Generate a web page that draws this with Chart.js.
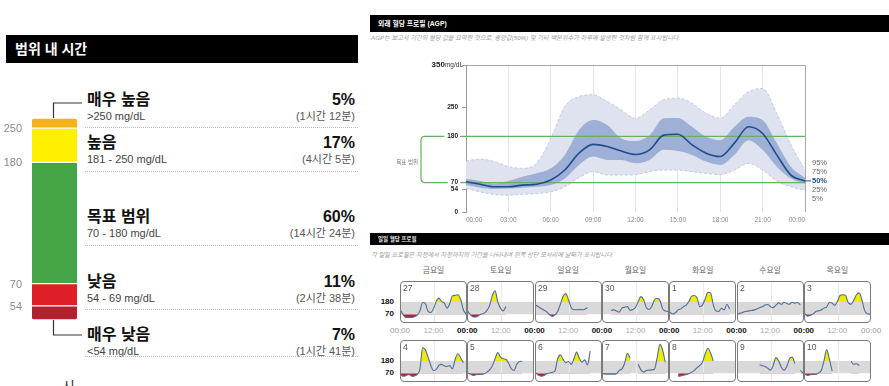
<!DOCTYPE html>
<html lang="ko">
<head>
<meta charset="utf-8">
<title>혈당 보고서</title>
<script src="https://cdn.jsdelivr.net/npm/chart.js@4.4.1/dist/chart.umd.min.js"></script>
<style>
  body {
    margin: 0;
    width: 889px;
    height: 386px;
    position: relative;
    overflow: hidden;
    background: #fff;
    font-family: Arial, 'Liberation Sans', 'Noto Sans CJK KR', sans-serif;
    color: #111;
  }
  .abs { position: absolute; white-space: nowrap; line-height: 1; }
  .head {
    position: absolute;
    background: #000;
    color: #fff;
    font-weight: bold;
    font-family: Arial, 'Noto Sans CJK KR', sans-serif;
    white-space: nowrap;
    box-sizing: border-box;
  }
  .sub { position: absolute; white-space: nowrap; font-style: italic; color: #9a9a9a; font-size: 6.2px; line-height: 1; }
  .dots { position: absolute; left: 85px; width: 273px; height: 0; border-top: 1px dotted #bdbdbd; }
  .day-box {
    position: absolute;
    width: 67px;
    height: 42px;
    box-sizing: border-box;
    border: 1px solid #7a7a7a;
    border-radius: 4px;
    overflow: hidden;
  }
  .day-box canvas { position: absolute; left: 0; top: 0; }
  .day-date { position: absolute; left: 2px; top: 2px; font-size: 8.5px; color: #555; line-height: 1; }
  canvas.abs { position: absolute; }
</style>
</head>
<body>

<div class="head" style="left:6px;top:35px;width:352px;height:28px;line-height:28px;padding-left:9px;font-size:14px;">범위 내 시간</div>
<canvas id="tir" class="abs" width="84" height="260" style="left:0;top:90px;"></canvas>

<div class="head" style="left:370px;top:15px;width:519px;height:17px;line-height:17px;padding-left:8px;font-size:6.8px;">외래 혈당 프로필 (AGP)</div>
<div class="sub" style="left:371px;top:35px;">AGP는 보고서 기간의 혈당 값을 요약한 것으로, 중앙값(50%) 및 기타 백분위수가 하루에 발생한 것처럼 함께 표시됩니다.</div>
<canvas id="agp" class="abs" width="500" height="172" style="left:380px;top:55px;"></canvas>

<div class="head" style="left:370px;top:233px;width:519px;height:12px;line-height:12px;padding-left:8px;font-size:5.5px;">일일 혈당 프로필</div>
<div class="sub" style="left:371px;top:252px;">각 일일 프로필은 자정에서 자정까지의 기간을 나타내며 왼쪽 상단 모서리에 날짜가 표시됩니다.</div>

<script>
// ---- 범위 내 시간 (Time in range) ----
const TIR_LEVELS = ['매우 높음', '높음', '목표 범위', '낮음', '매우 낮음'];
const TIR_RANGES = ['>250 mg/dL', '181 - 250 mg/dL', '70 - 180 mg/dL', '54 - 69 mg/dL', '<54 mg/dL'];
const TIR_PERCENT = [5, 17, 60, 11, 7];
const TIR_DURATION = ['(1시간 12분)', '(4시간 5분)', '(14시간 24분)', '(2시간 38분)', '(1시간 41분)'];
const TIR_THRESHOLDS = ['250', '180', '70', '54'];

// ---- AGP percentiles, mg/dL by hour of day ----
const AGP_HOURS = [0, 1, 2, 3, 4, 5, 6, 7, 8, 9, 10, 11, 12, 13, 14, 15, 16, 17, 18, 19, 20, 21, 22, 23, 24];
const AGP_P95 = [121, 126, 120, 108, 104, 116, 175, 251, 275, 279, 263, 243, 223, 243, 267, 271, 259, 235, 223, 255, 286, 294, 235, 160, 100];
const AGP_P75 = [79, 74, 68, 74, 84, 92, 104, 136, 195, 219, 207, 175, 169, 183, 223, 224, 203, 179, 171, 203, 227, 219, 164, 108, 82];
const AGP_P50 = [72, 66, 60, 60, 64, 66, 76, 100, 140, 161, 156, 145, 137, 148, 183, 185, 160, 140, 132, 164, 203, 187, 136, 88, 74];
const AGP_P25 = [64, 58, 55, 56, 58, 60, 64, 80, 112, 132, 124, 124, 116, 124, 148, 145, 136, 120, 112, 136, 171, 148, 108, 80, 68];
const AGP_P5 = [56, 48, 42, 40, 42, 44, 48, 60, 82, 96, 88, 88, 89, 96, 100, 100, 96, 92, 89, 100, 116, 100, 74, 60, 52];
const AGP_Y_TICKS = [0, 54, 70, 180, 250, 350];
const AGP_X_TICKS = [0, 3, 6, 9, 12, 15, 18, 21, 24];
const AGP_X_LABELS = ['00:00', '03:00', '06:00', '09:00', '12:00', '15:00', '18:00', '21:00', '00:00'];
const AGP_PCT_LABELS = ['95%', '75%', '50%', '25%', '5%'];
const TARGET_HIGH = 180;
const TARGET_LOW = 70;

// ---- 일일 혈당 프로필 (daily profiles), mg/dL by hour ----
const DAY_NAMES = ['금요일', '토요일', '일요일', '월요일', '화요일', '수요일', '목요일'];
const DAY_DATES = ['27', '28', '29', '30', '1', '2', '3', '4', '5', '6', '7', '8', '9', '10'];
const DAY_HOURS = AGP_HOURS;
const DAY_27 = [100, 58, 42, 42, 42, 48, 62, 100, 176, 165, 95, 85, 120, 185, 215, 185, 170, 125, 165, 235, 240, 245, 205, 110, 72];
const DAY_28 = [95, 62, 45, 45, 60, 72, 80, 105, 150, 240, 280, 180, 125, 100, 140, null, null, null, null, null, null, null, null, null, null];
const DAY_29 = [150, 135, 120, 105, 90, 65, 50, 65, 95, 160, 230, 255, 200, 130, 110, 110, 112, 110, 115, 128, null, null, null, null, null];
const DAY_30 = [null, null, null, 105, 109, 100, 89, 125, 133, 138, 105, 112, 130, 185, 228, 200, 130, 112, 140, 200, 214, 196, 120, 100, 95];
const DAY_1 = [89, 72, 83, 109, 118, 138, 152, 187, 233, 239, 216, 138, 152, 210, 268, 262, 152, 100, 95, 124, 109, 160, 118, null, null];
const DAY_2 = [72, 80, 89, 95, 100, 103, 109, 118, 129, 138, 152, 158, 138, 129, 152, 172, 158, 178, 167, 160, 178, 170, 175, 155, null];
const DAY_3 = [72, 52, 60, 72, 95, 100, 109, 125, 135, 175, 170, 150, 187, 240, 245, 238, 172, 160, 195, 245, 262, 200, 105, 75, 72];
const DAY_4 = [51, 43, 51, 60, 43, 46, 60, 109, 300, 280, 215, 140, 95, 105, 140, 150, 135, 132, 138, 109, 196, 245, 210, 165, null];
const DAY_5 = [72, 60, 51, 57, 60, 60, 66, 80, 100, 138, 200, 255, 215, 200, 195, 160, 110, 95, 150, 176, 178, null, null, null, null];
const DAY_6 = [72, 51, 43, 50, 66, 72, 78, 90, 200, 235, 195, 165, 175, 150, 200, 260, 205, 170, 190, 145, 270, null, null, null, null];
const DAY_7 = [66, 62, 62, 62, 62, 66, 95, 109, 160, 250, 205, null, null, 150, 100, 80, 95, 98, 100, 105, 210, 330, 280, 167, null];
const DAY_8 = [null, null, null, 43, 46, 51, 58, 66, 80, 95, 120, 138, 170, 245, 295, 250, 180, null, null, null, null, null, null, null, null];
const DAY_9 = [null, null, null, null, null, null, null, null, 147, 138, 130, 115, 98, 140, 210, 181, 124, 98, 130, 200, 215, 158, null, 95, 72];
const DAY_10 = [60, 51, 57, 60, 60, 72, 95, 181, 282, 196, 90, null, null, null, null, null, null, 178, 150, 155, 140, null, null, null, null];
const DAILY = [DAY_27, DAY_28, DAY_29, DAY_30, DAY_1, DAY_2, DAY_3, DAY_4, DAY_5, DAY_6, DAY_7, DAY_8, DAY_9, DAY_10];

// colours
const TIR_COLORS = ['#f6b21b', '#fff000', '#43a546', '#df1f27', '#b2202f'];
const FONT = "Arial, 'Liberation Sans', 'Noto Sans CJK KR', sans-serif";

// layout (page pixels)
const ROW_TITLE_Y = [100, 143, 217, 282, 335];
const ROW_DOTS_Y = [127, 171, 245, 309, 356];
const TIR_CANVAS_TOP = 90;
const GRID_LEFT = 400, GRID_STEP = 67.3;
const GRID_ROW_TOP = [281, 340];

function addText(text, x, y, style, align) {
    const el = document.createElement('div');
    el.className = 'abs';
    el.textContent = text;
    el.style.left = x + 'px';
    el.style.top = y + 'px';
    const tx = align === 'right' ? '-100%' : align === 'center' ? '-50%' : '0';
    el.style.transform = 'translate(' + tx + ', -50%)';
    Object.assign(el.style, style);
    document.body.appendChild(el);
    return el;
}

// ---------- 범위 내 시간 텍스트 ----------
TIR_LEVELS.forEach(function(name, i) {
    const y = ROW_TITLE_Y[i];
    addText(name, 87, y, { fontSize: '16px', fontWeight: 'bold', color: '#111' });
    addText(TIR_PERCENT[i] + '%', 355, y, { fontSize: '16px', fontWeight: 'bold', color: '#111' }, 'right');
    addText(TIR_RANGES[i], 87, y + 16, { fontSize: '11px', color: '#444' });
    addText(TIR_DURATION[i], 355, y + 16, { fontSize: '11px', color: '#555' }, 'right');
    const d = document.createElement('div');
    d.className = 'dots';
    d.style.top = ROW_DOTS_Y[i] + 'px';
    document.body.appendChild(d);
});
addText('시', 62, 386, { fontSize: '14px', color: '#333' });

// 스택 막대: 경계값 라벨과 연결선
const tirDecor = {
    id: 'tirDecor',
    afterDraw(chart) {
        const ctx = chart.ctx;
        const n = TIR_LEVELS.length;
        const el = i => chart.getDatasetMeta(n - 1 - i).data[0];
        ctx.save();
        ctx.font = '11px ' + FONT;
        ctx.fillStyle = '#8a8a8a';
        ctx.textAlign = 'right';
        ctx.textBaseline = 'middle';
        TIR_THRESHOLDS.forEach(function(t, i) {
            ctx.fillText(t, 22, el(i).base + 1);
        });
        const cx = 53.5;
        const topY = ROW_TITLE_Y[0] + 3 - TIR_CANVAS_TOP;
        const botY = ROW_TITLE_Y[n - 1] - TIR_CANVAS_TOP;
        ctx.strokeStyle = '#333';
        ctx.lineWidth = 1.2;
        ctx.beginPath();
        ctx.moveTo(cx, el(0).y);
        ctx.lineTo(cx, topY);
        ctx.lineTo(82, topY);
        ctx.moveTo(cx, el(n - 1).base);
        ctx.lineTo(cx, botY);
        ctx.lineTo(82, botY);
        ctx.stroke();
        ctx.restore();
    }
};

new Chart(document.getElementById('tir'), {
    type: 'bar',
    data: {
        labels: [''],
        datasets: TIR_LEVELS.map(function(name, i) {
            let radius = 0;
            if (i === 0) radius = { topLeft: 3, topRight: 3, bottomLeft: 0, bottomRight: 0 };
            if (i === TIR_LEVELS.length - 1) radius = { topLeft: 0, topRight: 0, bottomLeft: 3, bottomRight: 3 };
            return {
                label: name,
                data: [TIR_PERCENT[i]],
                backgroundColor: TIR_COLORS[i],
                borderColor: '#fff',
                borderWidth: { top: 1, bottom: 1, left: 0, right: 0 },
                borderSkipped: false,
                borderRadius: radius,
                barPercentage: 1,
                categoryPercentage: 1
            };
        }).reverse()
    },
    options: {
        responsive: false,
        animation: false,
        events: [],
        layout: { padding: { left: 32, right: 7, top: 28, bottom: 30 } },
        plugins: { legend: { display: false }, tooltip: { enabled: false } },
        scales: {
            x: { stacked: true, display: false },
            y: { stacked: true, display: false, min: 0, max: 100 }
        }
    },
    plugins: [tirDecor]
});

// ---------- AGP ----------
const toPoints = (hours, values) => hours.map((h, i) => ({ x: h, y: values[i] }));

const agpDecor = {
    id: 'agpDecor',
    afterDatasetDraw(chart, args) {
        if (args.index !== 1) return;
        const { ctx, chartArea: a } = chart;
        const y = chart.scales.y;
        const bx = a.left - 45;
        const yHi = y.getPixelForValue(TARGET_HIGH);
        const yLo = y.getPixelForValue(TARGET_LOW);
        ctx.save();
        ctx.strokeStyle = '#63b363';
        ctx.lineWidth = 1.2;
        ctx.font = 'bold 6.5px ' + FONT;
        [[TARGET_HIGH, yHi], [TARGET_LOW, yLo]].forEach(function(p) {
            const lblRight = a.left - 4 - 4;
            const lblLeft = lblRight - ctx.measureText(String(p[0])).width;
            ctx.beginPath();
            ctx.moveTo(bx + 4, p[1]);
            ctx.lineTo(lblLeft - 3, p[1]);
            ctx.moveTo(lblRight + 2, p[1]);
            ctx.lineTo(a.right, p[1]);
            ctx.stroke();
        });
        ctx.beginPath();
        ctx.moveTo(bx + 4, yHi);
        ctx.quadraticCurveTo(bx, yHi, bx, yHi + 4);
        ctx.lineTo(bx, yLo - 4);
        ctx.quadraticCurveTo(bx, yLo, bx + 4, yLo);
        ctx.stroke();
        ctx.font = '5.5px ' + FONT;
        ctx.fillStyle = '#777';
        ctx.textAlign = 'right';
        ctx.textBaseline = 'middle';
        ctx.fillText('목표 범위', bx - 3, (yHi + yLo) / 2 + 3);
        ctx.restore();
    },
    afterDraw(chart) {
        const { ctx, chartArea: a } = chart;
        const y = chart.scales.y;
        ctx.save();
        // 위/오른쪽 테두리
        ctx.strokeStyle = '#a8a8a8';
        ctx.lineWidth = 1;
        ctx.beginPath();
        ctx.moveTo(a.left, Math.round(a.top) + 0.5);
        ctx.lineTo(Math.round(a.right) + 0.5, Math.round(a.top) + 0.5);
        ctx.lineTo(Math.round(a.right) + 0.5, a.bottom);
        ctx.stroke();
        // 350mg/dL
        const top = AGP_Y_TICKS[AGP_Y_TICKS.length - 1];
        const y350 = y.getPixelForValue(top);
        ctx.textBaseline = 'middle';
        ctx.textAlign = 'right';
        ctx.fillStyle = '#333';
        ctx.font = '6.5px ' + FONT;
        const unitRight = a.left - 3;
        ctx.fillText('mg/dL', unitRight, y350);
        const uw = ctx.measureText('mg/dL').width;
        ctx.font = 'bold 8px ' + FONT;
        ctx.fillStyle = '#222';
        ctx.fillText(String(top), unitRight - uw, y350);
        // 백분위수 라벨
        const y50 = y.getPixelForValue(AGP_P50[AGP_P50.length - 1]);
        ctx.textAlign = 'left';
        AGP_PCT_LABELS.forEach(function(t, k) {
            const ly = y50 + (k - 2) * 9;
            if (k === 2) {
                ctx.font = 'bold 7.5px ' + FONT;
                ctx.fillStyle = '#1f4c8c';
                ctx.strokeStyle = '#1f4c8c';
                ctx.beginPath();
                ctx.moveTo(a.right, ly);
                ctx.lineTo(a.right + 6, ly);
                ctx.stroke();
            } else {
                ctx.font = '7.5px ' + FONT;
                ctx.fillStyle = '#666';
            }
            ctx.fillText(t, a.right + 7, ly);
        });
        ctx.restore();
    }
};

const bandLine = { pointRadius: 0, cubicInterpolationMode: 'monotone' };

new Chart(document.getElementById('agp'), {
    type: 'line',
    data: {
        datasets: [
            Object.assign({ label: '50%', data: toPoints(AGP_HOURS, AGP_P50), borderColor: '#1f4c8c', borderWidth: 1.6, fill: false }, bandLine),
            Object.assign({ label: '75%', data: toPoints(AGP_HOURS, AGP_P75), borderWidth: 0, borderColor: 'transparent', fill: false }, bandLine),
            Object.assign({ label: '25%', data: toPoints(AGP_HOURS, AGP_P25), borderWidth: 0, borderColor: 'transparent', fill: 1, backgroundColor: '#9eb0d6' }, bandLine),
            Object.assign({ label: '95%', data: toPoints(AGP_HOURS, AGP_P95), borderWidth: 1, borderColor: '#c3c9de', borderDash: [3, 2], fill: false }, bandLine),
            Object.assign({ label: '5%', data: toPoints(AGP_HOURS, AGP_P5), borderWidth: 1, borderColor: '#c3c9de', borderDash: [3, 2], fill: 3, backgroundColor: '#dfe3ef' }, bandLine)
        ]
    },
    options: {
        responsive: false,
        animation: false,
        events: [],
        layout: { padding: { left: 0, right: 75, top: 10, bottom: 0 } },
        plugins: { legend: { display: false }, tooltip: { enabled: false } },
        scales: {
            x: {
                type: 'linear',
                min: 0,
                max: 24,
                afterBuildTicks: s => { s.ticks = AGP_X_TICKS.map(v => ({ value: v })); },
                afterFit: s => { s.height = 15; },
                ticks: {
                    autoSkip: false,
                    maxRotation: 0,
                    align: 'inner',
                    padding: 4,
                    color: '#888',
                    font: { size: 6.5, family: FONT },
                    callback: v => AGP_X_LABELS[AGP_X_TICKS.indexOf(v)]
                },
                grid: { color: '#e4e4e4', drawTicks: false },
                border: { display: false }
            },
            y: {
                min: 0,
                max: 350,
                afterBuildTicks: s => { s.ticks = AGP_Y_TICKS.map(v => ({ value: v })); },
                afterFit: s => { s.width = 86; },
                ticks: {
                    padding: 4,
                    color: '#222',
                    font: { size: 6.5, weight: 'bold', family: FONT },
                    callback: v => (v === 350 ? '' : String(v))
                },
                grid: { drawOnChartArea: false, tickLength: 4, color: '#999' },
                border: { display: true, color: '#999' }
            }
        }
    },
    plugins: [agpDecor]
});

// ---------- 일일 혈당 프로필 ----------
DAY_NAMES.forEach(function(n, c) {
    addText(n, GRID_LEFT + c * GRID_STEP + 33.5, 271, { fontSize: '7.8px', color: '#666' }, 'center');
});

GRID_ROW_TOP.forEach(function(top) {
    addText(String(TARGET_HIGH), 394, top + 21, { fontSize: '8px', fontWeight: 'bold', color: '#111' }, 'right');
    addText(String(TARGET_LOW), 394, top + 33, { fontSize: '8px', fontWeight: 'bold', color: '#111' }, 'right');
});

for (let c = 0; c <= DAY_NAMES.length; c++) {
    const x = GRID_LEFT + c * GRID_STEP;
    const inner = c > 0 && c < DAY_NAMES.length;
    addText('00:00', x, 331, { fontSize: '8px', fontWeight: inner ? 'bold' : 'normal', color: inner ? '#111' : '#999' }, 'center');
    if (c < DAY_NAMES.length) {
        addText('12:00', x + 33.5, 331, { fontSize: '8px', color: '#aaa' }, 'center');
    }
}

const dayBand = {
    id: 'dayBand',
    beforeDatasetsDraw(chart) {
        const { ctx, chartArea: a } = chart;
        const { x, y } = chart.scales;
        const yHi = y.getPixelForValue(TARGET_HIGH);
        const yLo = y.getPixelForValue(TARGET_LOW);
        ctx.save();
        ctx.fillStyle = '#d9d9d9';
        ctx.fillRect(a.left, yHi, a.right - a.left, yLo - yHi);
        ctx.strokeStyle = '#ebebeb';
        ctx.lineWidth = 1;
        const xm = Math.round(x.getPixelForValue(12)) + 0.5;
        ctx.beginPath();
        ctx.moveTo(xm, a.top);
        ctx.lineTo(xm, a.bottom);
        ctx.stroke();
        ctx.restore();
    }
};

DAILY.forEach(function(values, i) {
    const col = i % 7, row = Math.floor(i / 7);
    const box = document.createElement('div');
    box.className = 'day-box';
    box.style.left = Math.round(GRID_LEFT + col * GRID_STEP) + 'px';
    box.style.top = GRID_ROW_TOP[row] + 'px';
    const cv = document.createElement('canvas');
    cv.width = 65;
    cv.height = 40;
    box.appendChild(cv);
    const lbl = document.createElement('div');
    lbl.className = 'day-date';
    lbl.textContent = DAY_DATES[i];
    box.appendChild(lbl);
    document.body.appendChild(box);

    const pts = toPoints(DAY_HOURS, values);
    new Chart(cv, {
        type: 'line',
        data: {
            datasets: [
                {
                    data: pts,
                    borderColor: '#4f6f99',
                    borderWidth: 1.1,
                    pointRadius: 0,
                    cubicInterpolationMode: 'monotone',
                    fill: { target: { value: TARGET_HIGH }, above: '#f2ea00', below: 'rgba(0,0,0,0)' }
                },
                {
                    data: pts,
                    borderWidth: 0,
                    borderColor: 'rgba(0,0,0,0)',
                    pointRadius: 0,
                    cubicInterpolationMode: 'monotone',
                    fill: { target: { value: TARGET_LOW }, above: 'rgba(0,0,0,0)', below: '#b01f2e' }
                }
            ]
        },
        options: {
            responsive: false,
            animation: false,
            events: [],
            layout: { padding: 0 },
            plugins: { legend: { display: false }, tooltip: { enabled: false } },
            scales: {
                x: { type: 'linear', min: 0, max: 24, display: false },
                y: { min: 0, max: 360, display: false }
            }
        },
        plugins: [dayBand]
    });
});
</script>
</body>
</html>
